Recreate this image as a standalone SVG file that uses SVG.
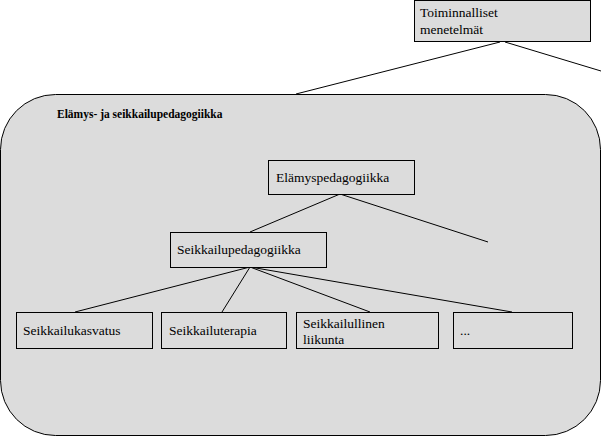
<svg xmlns="http://www.w3.org/2000/svg" width="602" height="436" viewBox="0 0 602 436">
<style>
.b{fill:#dcdcdc;stroke:#000;stroke-width:1}
.t{font-family:"Liberation Serif","Times New Roman",serif;font-size:13.5px;fill:#000}
.c line{stroke:#000;stroke-width:1}
</style>
<rect width="602" height="436" fill="#fff"/>
<g id="container"><rect x="0.5" y="94.5" width="600" height="341" rx="55" class="b"/>
<text x="57" y="118" font-family="Liberation Serif,serif" font-size="11.5" font-weight="bold">Elämys- ja seikkailupedagogiikka</text></g>
<g id="toiminnalliset"><rect x="414.5" y="0.5" width="176" height="41" class="b"/>
<text class="t" x="420" y="17">Toiminnalliset</text><text class="t" x="420" y="34">menetelmät</text></g>
<g class="c" id="connectors">
<line x1="296" y1="94" x2="500" y2="42"/>
<line x1="505" y1="42" x2="601" y2="71"/>
<line x1="340" y1="194" x2="250" y2="232"/>
<line x1="340" y1="194" x2="488" y2="242"/>
<line x1="250" y1="267" x2="75" y2="312"/>
<line x1="250" y1="267" x2="222" y2="312"/>
<line x1="250" y1="267" x2="370" y2="312"/>
<line x1="250" y1="267" x2="512" y2="312"/>
</g>
<g id="elamys"><rect x="268.5" y="160.5" width="146" height="34" class="b"/><text class="t" x="276" y="182">Elämyspedagogiikka</text></g>
<g id="seikkailu"><rect x="170.5" y="232.5" width="156" height="35" class="b"/><text class="t" x="177" y="254">Seikkailupedagogiikka</text></g>
<g id="kasvatus"><rect x="16.5" y="312.5" width="136" height="36" class="b"/><text class="t" x="23" y="335">Seikkailukasvatus</text></g>
<g id="terapia"><rect x="161.5" y="312.5" width="125" height="36" class="b"/><text class="t" x="169" y="335">Seikkailuterapia</text></g>
<g id="liikunta"><rect x="296.5" y="312.5" width="142" height="36" class="b"/><text class="t" x="303" y="328">Seikkailullinen</text><text class="t" x="303" y="344">liikunta</text></g>
<g id="more"><rect x="453.5" y="312.5" width="119" height="36" class="b"/><text class="t" x="460" y="335">...</text></g>
</svg>
